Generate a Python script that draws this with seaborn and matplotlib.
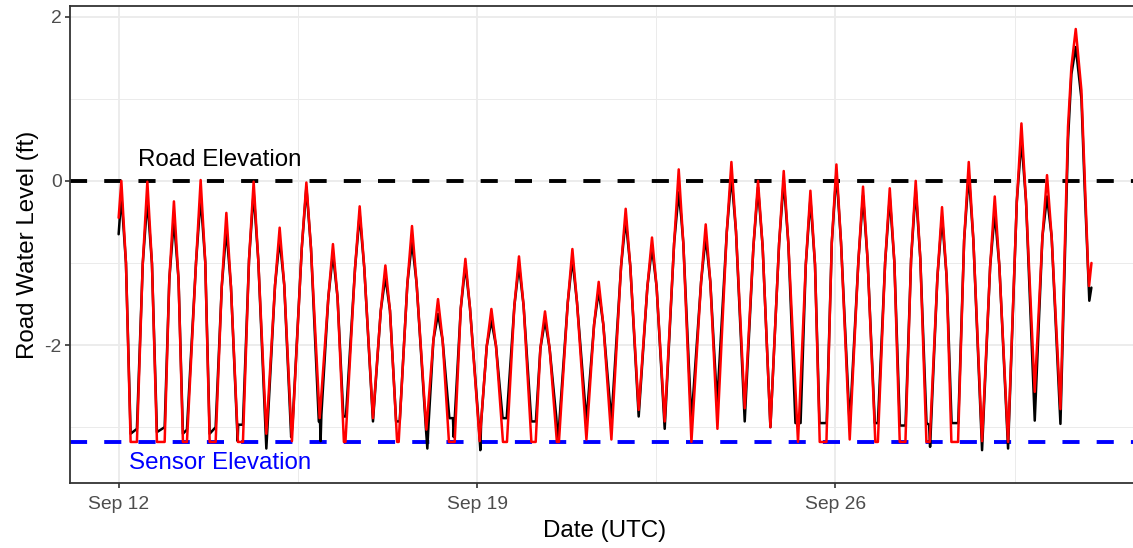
import numpy as np
import pandas as pd
import matplotlib
matplotlib.use("Agg")
import matplotlib.pyplot as plt
import matplotlib.dates as mdates
import seaborn as sns

# ---------------- data ----------------
START = "2023-09-12"          # origin of the day offsets below (UTC)

# red series vertices: (days since Sep 12 00:00 UTC, water level in ft)
red_pts = [
    (0.000, -0.45), (0.053, 0.00), (0.143, -1.00), (0.234, -3.18), (0.357, -3.18),
    (0.471, -1.01), (0.561, -0.01), (0.651, -1.01), (0.748, -3.18), (0.899, -3.18),
    (0.990, -1.20), (1.080, -0.25), (1.170, -1.20), (1.256, -3.18), (1.334, -3.18),
    (1.512, -0.99), (1.602, 0.01), (1.692, -0.99), (1.778, -3.18), (1.895, -3.18),
    (2.014, -1.29), (2.104, -0.39), (2.194, -1.29), (2.331, -3.18), (2.428, -3.18),
    (2.547, -0.96), (2.637, -0.01), (2.727, -0.96), (2.885, -3.08),
    (3.055, -1.27), (3.145, -0.57), (3.235, -1.27), (3.385, -3.17),
    (3.577, -0.82), (3.667, -0.02), (3.757, -0.82), (3.927, -2.89),
    (4.096, -1.42), (4.186, -0.77), (4.276, -1.42), (4.400, -3.18), (4.430, -3.18),
    (4.618, -1.06), (4.708, -0.31), (4.798, -1.06), (4.968, -2.89),
    (5.120, -1.58), (5.210, -1.03), (5.300, -1.58), (5.440, -3.18), (5.470, -3.18),
    (5.640, -1.25), (5.730, -0.55), (5.820, -1.25), (6.011, -3.03),
    (6.148, -1.94), (6.238, -1.44), (6.328, -1.94), (6.452, -3.18), (6.564, -3.18),
    (6.683, -1.55), (6.773, -0.95), (6.863, -1.55), (7.052, -3.17),
    (7.191, -2.01), (7.281, -1.56), (7.371, -2.01), (7.507, -3.18), (7.585, -3.18),
    (7.730, -1.52), (7.820, -0.92), (7.910, -1.52), (8.062, -3.18), (8.146, -3.18),
    (8.238, -2.04), (8.328, -1.59), (8.418, -2.04), (8.560, -3.18), (8.600, -3.18),
    (8.773, -1.48), (8.863, -0.83), (8.953, -1.48), (9.137, -3.15),
    (9.287, -1.75), (9.377, -1.23), (9.467, -1.75), (9.625, -3.15),
    (9.814, -1.04), (9.904, -0.34), (9.994, -1.04), (10.158, -2.79),
    (10.328, -1.29), (10.418, -0.69), (10.508, -1.29), (10.666, -2.93),
    (10.850, -0.76), (10.940, 0.14), (11.030, -0.76), (11.188, -3.18),
    (11.377, -1.23), (11.467, -0.53), (11.557, -1.23), (11.696, -3.02),
    (11.879, -0.62), (11.969, 0.23), (12.059, -0.62), (12.229, -2.77),
    (12.399, -0.80), (12.489, 0.00), (12.579, -0.80), (12.731, -3.00),
    (12.901, -0.76), (12.991, 0.12), (13.081, -0.76), (13.270, -3.18),
    (13.422, -1.02), (13.512, -0.12), (13.602, -1.02), (13.694, -3.18), (13.825, -3.18),
    (13.930, -0.75), (14.020, 0.20), (14.110, -0.75), (14.280, -3.15),
    (14.450, -0.97), (14.540, -0.07), (14.630, -0.97), (14.780, -3.18), (14.830, -3.18),
    (14.972, -0.99), (15.062, -0.09), (15.152, -0.99), (15.257, -3.18), (15.368, -3.18),
    (15.479, -0.95), (15.569, 0.00), (15.659, -0.95), (15.778, -3.18), (15.842, -3.18),
    (15.993, -1.17), (16.083, -0.32), (16.173, -1.17), (16.266, -3.18), (16.396, -3.18),
    (16.515, -0.72), (16.605, 0.23), (16.695, -0.72), (16.865, -3.17),
    (17.023, -1.04), (17.113, -0.19), (17.203, -1.04), (17.373, -3.18),
    (17.544, -0.25), (17.634, 0.70), (17.724, -0.25), (17.894, -2.57),
    (18.044, -0.68), (18.134, 0.07), (18.224, -0.68), (18.396, -2.78),
    (18.544, 0.66), (18.610, 1.39), (18.695, 1.85), (18.806, 1.10), (18.870, 0.05),
    (18.935, -1.04), (18.955, -1.28), (19.002, -1.00),
]

# black series vertices: (days since Sep 12 00:00 UTC, water level in ft)
black_pts = [
    (0.000, -0.65), (0.053, -0.18), (0.143, -1.00), (0.234, -3.08), (0.357, -3.02),
    (0.471, -1.01), (0.561, -0.23), (0.651, -1.01), (0.748, -3.06), (0.899, -3.00),
    (0.990, -1.20), (1.080, -0.47), (1.170, -1.20), (1.256, -3.08), (1.334, -3.03),
    (1.512, -0.99), (1.602, -0.20), (1.692, -0.99), (1.778, -3.08), (1.895, -3.00),
    (2.014, -1.29), (2.104, -0.59), (2.194, -1.29), (2.325, -3.17), (2.335, -2.97), (2.428, -2.97),
    (2.547, -0.96), (2.637, -0.14), (2.727, -0.96), (2.885, -3.26),
    (3.055, -1.27), (3.145, -0.71), (3.235, -1.27), (3.370, -3.12), (3.400, -2.93),
    (3.577, -0.82), (3.667, -0.08), (3.757, -0.82), (3.910, -2.93), (3.935, -2.95),
    (3.945, -3.17), (3.960, -2.85),
    (4.096, -1.42), (4.186, -0.89), (4.276, -1.42), (4.390, -2.87), (4.440, -2.87),
    (4.618, -1.06), (4.708, -0.41), (4.798, -1.06), (4.968, -2.93),
    (5.120, -1.58), (5.210, -1.17), (5.300, -1.58), (5.420, -2.93), (5.490, -2.93),
    (5.640, -1.25), (5.730, -0.74), (5.820, -1.25), (6.000, -3.00), (6.030, -3.26), (6.050, -3.00),
    (6.148, -1.94), (6.238, -1.62), (6.328, -1.94), (6.460, -2.89), (6.530, -2.89), (6.545, -3.12),
    (6.683, -1.55), (6.773, -1.03), (6.863, -1.55), (7.030, -2.93), (7.065, -3.28), (7.080, -2.95),
    (7.191, -2.01), (7.281, -1.70), (7.371, -2.01), (7.500, -2.89), (7.580, -2.89),
    (7.730, -1.52), (7.820, -1.03), (7.910, -1.52), (8.060, -2.93), (8.150, -2.93),
    (8.238, -2.04), (8.328, -1.70), (8.418, -2.04), (8.550, -2.89), (8.575, -3.17), (8.590, -3.10),
    (8.773, -1.48), (8.863, -0.95), (8.953, -1.48), (9.137, -2.93),
    (9.287, -1.75), (9.377, -1.34), (9.467, -1.75), (9.625, -2.93),
    (9.814, -1.04), (9.904, -0.47), (9.994, -1.04), (10.158, -2.87),
    (10.328, -1.29), (10.418, -0.81), (10.508, -1.29), (10.666, -3.02),
    (10.850, -0.76), (10.940, -0.14), (10.990, -0.45), (11.030, -0.76), (11.188, -2.93),
    (11.377, -1.23), (11.467, -0.68), (11.557, -1.23), (11.690, -2.72),
    (11.879, -0.62), (11.969, 0.06), (12.059, -0.62), (12.229, -2.93),
    (12.399, -0.80), (12.489, -0.08), (12.579, -0.80), (12.731, -3.00),
    (12.901, -0.76), (12.991, 0.00), (13.081, -0.76), (13.220, -2.95), (13.320, -2.95),
    (13.422, -1.02), (13.512, -0.22), (13.602, -1.02), (13.690, -2.95), (13.830, -2.95),
    (13.930, -0.75), (14.020, 0.10), (14.110, -0.75), (14.280, -2.98),
    (14.450, -0.97), (14.540, -0.18), (14.630, -0.97), (14.770, -2.95), (14.830, -2.95),
    (14.972, -0.99), (15.062, -0.20), (15.152, -0.99), (15.260, -2.98), (15.370, -2.98),
    (15.479, -0.95), (15.569, -0.10), (15.659, -0.95), (15.780, -2.95), (15.830, -2.97), (15.850, -3.24),
    (15.993, -1.17), (16.083, -0.44), (16.173, -1.17), (16.270, -2.95), (16.400, -2.95),
    (16.515, -0.72), (16.605, 0.08), (16.695, -0.72), (16.865, -3.28),
    (17.023, -1.04), (17.113, -0.39), (17.203, -1.04), (17.373, -3.26),
    (17.544, -0.25), (17.634, 0.50), (17.724, -0.25), (17.894, -2.92),
    (18.044, -0.68), (18.134, -0.19), (18.224, -0.68), (18.396, -2.96),
    (18.544, 0.50), (18.610, 1.30), (18.695, 1.63), (18.806, 1.00), (18.870, -0.10),
    (18.935, -1.10), (18.960, -1.46), (19.000, -1.30),
]

ROAD_ELEV = 0.0
SENSOR_ELEV = -3.18
x_ticks = ["2023-09-12", "2023-09-19", "2023-09-26"]
x_minor = ["2023-09-15 12:00", "2023-09-22 12:00", "2023-09-29 12:00"]
y_ticks = [-2, 0, 2]
y_minor = [-3, -1, 1]

# ---------------- build table ----------------
t0 = pd.Timestamp(START)


def to_frame(pts, name):
    d, v = zip(*pts)
    return pd.DataFrame({"time": t0 + pd.to_timedelta(list(d), unit="D"),
                         "ft": list(v), "series": name})


df = pd.concat([to_frame(black_pts, "black"), to_frame(red_pts, "red")],
               ignore_index=True)

# ---------------- style ----------------
sns.set_theme(style="white")
plt.rcParams['font.family'] = ['Liberation Sans', 'DejaVu Sans']
plt.rcParams['axes.unicode_minus'] = False

fig = plt.figure(figsize=(11.33, 5.48), dpi=100)
ax = fig.add_axes([70 / 1133, 65 / 548, 1070 / 1133, 477 / 548])
ax.set_facecolor("white")

ax.axhline(ROAD_ELEV, color="black", lw=2.8, ls=(0, (4.4, 4.4)), zorder=2)
ax.axhline(SENSOR_ELEV, color="#0000FF", lw=2.8, ls=(0, (4.4, 4.4)), zorder=2)

sns.lineplot(data=df, x="time", y="ft", hue="series", hue_order=["black", "red"],
             palette={"black": "black", "red": "#FF0000"}, estimator=None,
             sort=False, legend=False, lw=1.8, ax=ax, zorder=3)

ax.text(t0 + pd.Timedelta(days=1.98), 0.18, "Road Elevation", ha="center",
        va="baseline", fontsize=17.4, color="black", zorder=4)
ax.text(t0 + pd.Timedelta(days=1.98), -3.51, "Sensor Elevation", ha="center",
        va="baseline", fontsize=17.4, color="#0000FF", zorder=4)

ax.set_xlim(t0 - pd.Timedelta(days=0.95), t0 + pd.Timedelta(days=19.95))
ax.set_ylim(-3.68, 2.13)

ax.set_xticks(pd.to_datetime(x_ticks))
ax.set_xticks(pd.to_datetime(x_minor), minor=True)
ax.xaxis.set_major_formatter(mdates.DateFormatter("%b %d"))
ax.set_yticks(y_ticks)
ax.set_yticks(y_minor, minor=True)

ax.grid(which="major", color="#EBEBEB", lw=1.3)
ax.grid(which="minor", color="#EBEBEB", lw=0.7)
ax.set_axisbelow(True)

for s in ax.spines.values():
    s.set_visible(True)
    s.set_color("#333333")
    s.set_linewidth(1.3)

ax.tick_params(axis="x", which="major", pad=6)
ax.tick_params(axis="y", which="major", pad=2.5)
ax.tick_params(axis="both", which="major", length=3.6, width=1.2, color="#333333",
               labelcolor="#4D4D4D", labelsize=13.9, bottom=True, left=True)
ax.tick_params(axis="both", which="minor", length=0)

ax.set_xlabel("Date (UTC)", fontsize=17.4, color="black", labelpad=5)
ax.set_ylabel("Road Water Level (ft)", fontsize=17.4, color="black", labelpad=4)

fig.savefig("out.png", dpi=100)
